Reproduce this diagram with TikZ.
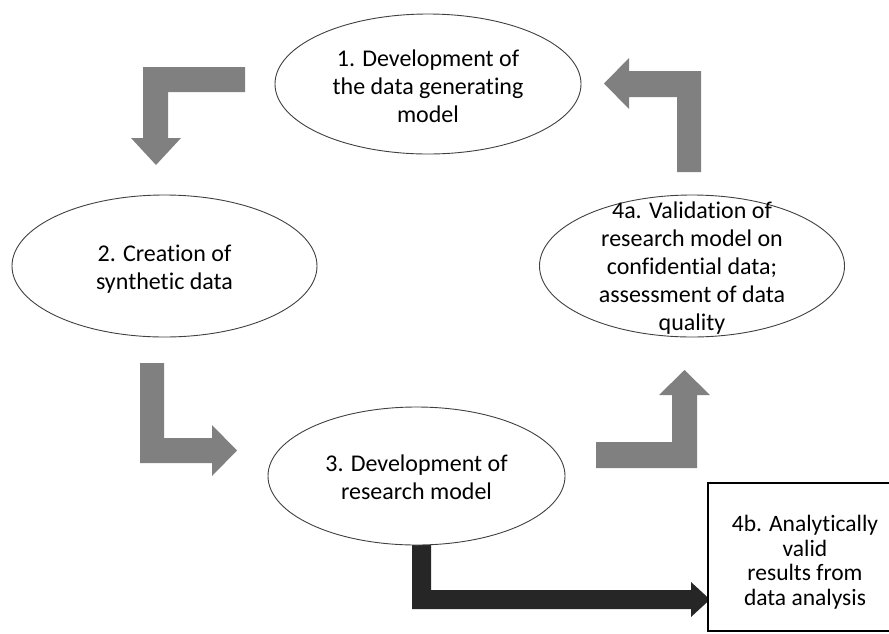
\documentclass[tikz,border=0pt]{standalone}
\usepackage{fontspec}
\setmainfont[Ligatures=CommonOff]{Carlito}
\usetikzlibrary{shapes.geometric}
\begin{document}
\begin{tikzpicture}[x=1pt,y=-1pt,
  oval/.style={ellipse,draw=black!75,line width=0.9pt,fill=white,inner sep=0pt},
  label/.style={align=center,inner sep=0pt,text=black,font=\fontsize{24}{28}\selectfont},
  grayarrow/.style={fill=black!50,draw=none},
  darkarrow/.style={fill=black!85,draw=none}]
\useasboundingbox (0,0) rectangle (889,633);
\clip (0,0) rectangle (889,633);

% gray block arrows
\fill[grayarrow] (245,67) -- (143,67) -- (143,138) -- (131,138) -- (156,165) -- (181,138) -- (168,138) -- (168,92) -- (245,92) -- cycle;
\fill[grayarrow] (701,172) -- (701,71) -- (629,71) -- (629,58) -- (604,83.5) -- (629,109) -- (629,97) -- (677,97) -- (677,172) -- cycle;
\fill[grayarrow] (140,363) -- (164,363) -- (164,438) -- (212,438) -- (212,425) -- (237,450.5) -- (212,476) -- (212,463) -- (140,463) -- cycle;
\fill[grayarrow] (596,468) -- (596,442) -- (672,442) -- (672,395) -- (659,395) -- (684.5,370) -- (710,395) -- (697,395) -- (697,468) -- cycle;

% dark arrow to 4b
\fill[darkarrow] (412,540) -- (431,540) -- (431,590) -- (691,590) -- (691,582) -- (710,599.5) -- (691,617) -- (691,609) -- (412,609) -- cycle;

% ellipses
\node[oval,minimum width=306pt,minimum height=140pt] (e1) at (428,84) {};
\node[oval,minimum width=305pt,minimum height=142pt] (e2) at (164.5,266) {};
\node[oval,minimum width=297pt,minimum height=138pt] (e3) at (416.5,476) {};
\node[oval,minimum width=305pt,minimum height=142pt] (e4a) at (692,266) {};

% rectangle 4b
\draw[line width=1.8pt,fill=white] (708,483) rectangle (920,631);
\coordinate (b4) at (805,562);

% texts
\node[label] (t1) at ([yshift=-2pt]e1) {1. Development of\\the data generating\\model};
\node[label] (t2) at ([yshift=-3pt]e2) {2. Creation of\\synthetic data};
\node[label] (t3) at ([yshift=-1pt]e3) {3. Development of\\research model};
\node[label] (t4a) at ([yshift=-2pt]e4a) {4a. Validation of\\research model on\\confidential data;\\assessment of data\\quality};
\node[label,font=\fontsize{23.5}{24.5}\selectfont] (t4b) at (b4) {4b. Analytically\\valid\\results from\\data analysis};
\end{tikzpicture}
\end{document}
